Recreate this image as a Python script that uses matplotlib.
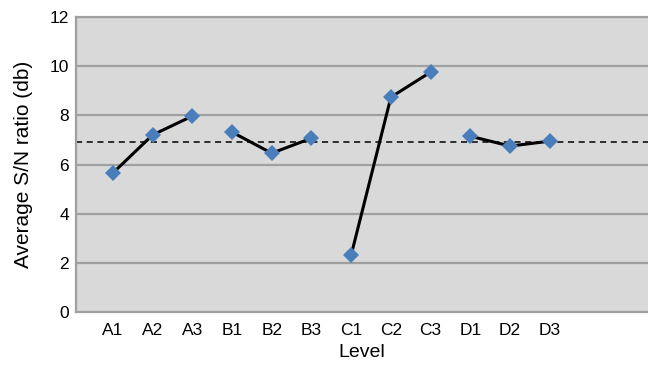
import matplotlib.pyplot as plt

plt.rcParams['font.family'] = ['Liberation Sans', 'DejaVu Sans']

levels = ['A1', 'A2', 'A3', 'B1', 'B2', 'B3', 'C1', 'C2', 'C3', 'D1', 'D2', 'D3']
sn_ratio = [5.65, 7.2, 7.97, 7.32, 6.46, 7.07, 2.32, 8.74, 9.76, 7.15, 6.75, 6.95]
mean_sn = 6.91


def main():
    fig = plt.figure(figsize=(6.48, 3.66), dpi=100)
    ax = fig.add_axes([0.117, 0.1475, 0.883, 0.806])
    ax.set_facecolor('#d9d9d9')

    x = list(range(len(levels)))
    # one line per factor (groups of 3)
    for g in range(0, len(levels), 3):
        ax.plot(x[g:g + 3], sn_ratio[g:g + 3], color='black', linewidth=2.2, zorder=3)
    ax.plot(x, sn_ratio, linestyle='none', marker='D', markersize=8.5,
            color='#4a7ebb', markeredgewidth=0, zorder=4)

    ax.axhline(mean_sn, color='black', linestyle='--', linewidth=1.1, dashes=(4, 3), zorder=2)

    ax.set_ylim(0, 12)
    ax.set_yticks(range(0, 13, 2))
    ax.set_xlim(-0.93, 13.47)
    ax.set_xticks(x)
    ax.set_xticklabels(levels)
    ax.grid(axis='y', color='#a0a0a0', linewidth=1.6, zorder=1)
    ax.set_axisbelow(True)

    for side in ['left', 'bottom', 'top']:
        ax.spines[side].set_color('#a0a0a0')
        ax.spines[side].set_linewidth(1.6)
    ax.spines['right'].set_visible(False)
    ax.tick_params(axis='y', length=0, labelsize=12.5, pad=5)
    ax.tick_params(axis='x', length=0, labelsize=12.5, pad=8)
    ax.set_xlabel('Level', fontsize=14, labelpad=4)
    ax.set_ylabel('Average S/N ratio (db)', fontsize=15, labelpad=12)

    fig.savefig('out.png', dpi=100)


if __name__ == "__main__":
    main()
